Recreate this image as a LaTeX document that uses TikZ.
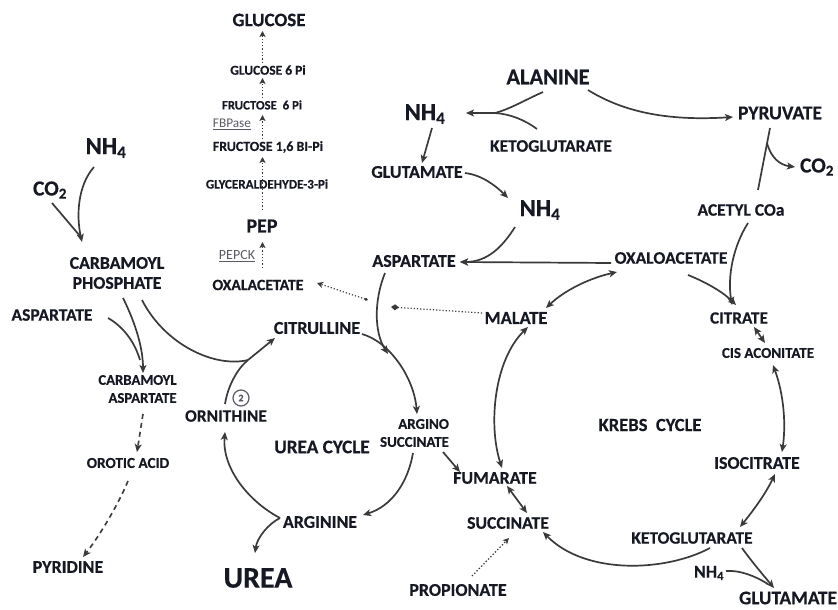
\documentclass[tikz,border=0pt]{standalone}
\usepackage{fontspec}
\setmainfont{Carlito}[BoldFeatures={FakeBold=0.4}]
\usetikzlibrary{arrows.meta,calc}
\definecolor{txt}{RGB}{22,24,36}
\definecolor{lnc}{RGB}{58,58,58}
\definecolor{enz}{RGB}{90,90,100}
\begin{document}
\begin{tikzpicture}[x=1pt,y=-1pt,
  lab/.style={font={\fontsize{#1}{#1}\selectfont\bfseries}, text=txt, inner sep=0pt},
  labtwo/.style 2 args={font={\fontsize{#1}{#2}\selectfont\bfseries}, text=txt, inner sep=0pt},
  enzyme/.style={font={\fontsize{#1}{#1}\selectfont}, text=enz, inner sep=0pt},
  ln/.style={draw=lnc, line width=1.7pt},
  ar/.style={ln, -{Stealth[length=8pt,width=7pt,inset=2pt]}},
  dar/.style={ln, {Stealth[length=8pt,width=7pt,inset=2pt]}-{Stealth[length=8pt,width=7pt,inset=2pt]}},
  dotar/.style={draw=lnc, line width=1.3pt, dotted, -{Stealth[length=6pt,width=6pt,inset=1.5pt]}},
  dashar/.style={draw=lnc, line width=1.6pt, dash pattern=on 5pt off 4pt, -{Stealth[length=8pt,width=7pt,inset=2pt]}},
  numcirc/.style={circle, draw=enz, line width=1.2pt, minimum size=16pt, inner sep=0pt, font={\fontsize{10}{10}\selectfont\bfseries}, text=enz}
]
\useasboundingbox (0,0) rectangle (838,610);

% ---- gluconeogenesis column
\node[lab=19] (glucose) at (269,20) {GLUCOSE};
\node[lab=13.5] (g6p) at (268,70) {GLUCOSE 6 Pi};
\node[lab=12.8] (f6p) at (262,105) {FRUCTOSE\ \ 6 Pi};
\node[enzyme=13.3] (fbpase) at (232,124) {\underline{FBPase}};
\node[lab=13.9] (f16) at (268,147) {FRUCTOSE 1,6 BI-Pi};
\node[lab=13.1] (gly) at (267,184) {GLYCERALDEHYDE-3-Pi};
\node[lab=20] (pep) at (262,226) {PEP};
\node[enzyme=14] (pepck) at (237,256) {\underline{PEPCK}};
\node[lab=15.8] (oxal) at (258,285) {OXALACETATE};

% ---- left: pyrimidine branch
\node[lab=24.5] (nhL) at (106,148) {NH\textsubscript{4}};
\node[lab=21.5] (coL) at (50,190) {CO\textsubscript{2}};
\node[labtwo={17.8}{20}, align=center] (cp) at (117,273) {CARBAMOYL\\PHOSPHATE};
\node[lab=17.5] (aspL) at (52,315) {ASPARTATE};
\node[labtwo={14.7}{18}, align=right] (ca) at (137.5,389) {CARBAMOYL\\ASPARTATE};
\node[lab=15.2] (orotic) at (128,463) {OROTIC ACID};
\node[lab=18] (pyr) at (68,567) {PYRIDINE};

% ---- urea cycle
\node[lab=18.2] (cit) at (317,328) {CITRULLINE};
\node[lab=17.4] (orn) at (226,416) {ORNITHINE};
\node[numcirc] (two) at (241,398) {2};
\node[lab=19.2] (ureacyc) at (322,447) {UREA CYCLE};
\node[labtwo={14.9}{18}, align=right] (argsuc) at (414.5,433) {ARGINO\\SUCCINATE};
\node[lab=17.9] (arg) at (320,522) {ARGININE};
\node[lab=30] (urea) at (258,578) {UREA};

% ---- transamination / top middle
\node[lab=22.4] (ala) at (548,77) {ALANINE};
\node[lab=24.5] (nhT) at (425,114) {NH\textsubscript{4}};
\node[lab=17.5] (ketoT) at (551,146) {KETOGLUTARATE};
\node[lab=17.9] (gluT) at (417,172) {GLUTAMATE};
\node[lab=24.5] (nhM) at (540,210) {NH\textsubscript{4}};
\node[lab=18] (aspM) at (414,261) {ASPARTATE};
\node[lab=17.6] (oxaloR) at (671,258) {OXALOACETATE};
\node[lab=19.6] (pyruv) at (780,113) {PYRUVATE};
\node[lab=21.5] (coR) at (817,167) {CO\textsubscript{2}};
\node[lab=17.5] (acetyl) at (741,210) {ACETYL COa};

% ---- krebs cycle
\node[lab=17.2] (citrate) at (739,318) {CITRATE};
\node[lab=15] (cisacon) at (768,353) {CIS ACONITATE};
\node[lab=18.4] (malate) at (516,318) {MALATE};
\node[lab=18.6] (krebs) at (650,425) {KREBS\ \ CYCLE};
\node[lab=17.9] (isocit) at (757,463) {ISOCITRATE};
\node[lab=17.9] (fum) at (495,478) {FUMARATE};
\node[lab=17.7] (succ) at (508,523) {SUCCINATE};
\node[lab=17.4] (ketoB) at (692,538) {KETOGLUTARATE};
\node[lab=18] (nhS) at (709,573) {NH\textsubscript{4}};
\node[lab=19.2] (gluB) at (788,598) {GLUTAMATE};
\node[lab=18] (prop) at (458,590) {PROPIONATE};

% junction coordinates
\coordinate (j1) at (248,360);
\coordinate (j2) at (495,113);
\coordinate (j3) at (388,354);
\coordinate (j4) at (280,518);
\coordinate (j5) at (767,143);
\coordinate (j6) at (391,307);
\coordinate (j7) at (368,300);
\coordinate (j8) at (80,236);
\coordinate (j9) at (140,360);
\coordinate (j10) at (768,584);

% ---- dotted gluconeogenesis arrows
\draw[dotar] ($(oxal)+(4.5,-17)$) -- ($(pep)+(0.5,16)$);
\draw[dotar] ($(pep)+(0.5,-16)$) -- ($(f16)+(-5.5,10)$);
\draw[dotar] ($(f16)+(-5.5,-8)$) -- ($(f6p)+(0.5,10)$);
\draw[dotar] ($(f6p)+(0.5,-7)$) -- ($(g6p)+(-5.5,8)$);
\draw[dotar] ($(g6p)+(-5.5,-7)$) -- ($(glucose)+(-6.5,11)$);

% ---- left branch
\draw[ar] ($(nhL)+(-12,19)$) .. controls (78,185) and (76,215) .. ($(cp)+(-35,-31)$);
\draw[ln] ($(coL)+(2,13)$) -- (j8);
\draw[ar] ($(cp)+(6,25)$) .. controls (133,318) and (143,345) .. ($(ca)+(5.5,-16)$);
\draw[ln] ($(aspL)+(56,3)$) .. controls (122,326) and (134,340) .. (j9);
\draw[dashar] ($(ca)+(5.5,25)$) -- ($(orotic)+(9,-11)$);
\draw[dashar] ($(orotic)+(0,18)$) .. controls (118,505) and (100,535) .. ($(pyr)+(15,-10)$);

% ---- into citrulline
\draw[ln] ($(cp)+(25,27)$) .. controls (165,345) and (215,368) .. (j1);
\draw[ln] ($(orn)+(-1,-12)$) .. controls (228,385) and (238,368) .. (j1);
\draw[ar] (j1) -- ($(cit)+(-42,10)$);

% ---- urea cycle arcs
\draw[ar] ($(cit)+(45,6)$) .. controls (390,342) and (414,378) .. ($(argsuc)+(2.5,-19)$);
\draw[ar] ($(aspM)+(-29,12)$) .. controls (374,300) and (374,332) .. (j3);
\draw[ar] ($(argsuc)+(-1.5,20)$) .. controls (408,482) and (392,506) .. ($(arg)+(43,-7)$);
\draw[ar] (j4) .. controls (246,500) and (222,466) .. ($(orn)+(-1,16)$);
\draw[ar] (j4) .. controls (268,524) and (257,538) .. ($(urea)+(-3,-25)$);
\draw[ar] ($(argsuc)+(28.5,19)$) -- ($(fum)+(-35,-6)$);

% ---- alanine / transamination
\draw[ln] ($(ala)+(-5,15)$) .. controls (525,100) and (510,109) .. (j2);
\draw[ln] ($(ketoT)+(-14,-17)$) .. controls (525,120) and (510,114) .. (j2);
\draw[ar] (j2) -- ($(nhT)+(41,-1)$);
\draw[ar] ($(nhT)+(7,14)$) -- ($(gluT)+(5,-9)$);
\draw[ar] ($(gluT)+(48,1)$) .. controls (482,175) and (496,186) .. ($(nhM)+(-32,-12)$);
\draw[ar] ($(nhM)+(-25,17)$) .. controls (503,246) and (488,262) .. ($(aspM)+(46,1)$);
\draw[ar] ($(oxaloR)+(-60,5)$) -- ($(aspM)+(46,1)$);
\draw[ar] ($(ala)+(40,13)$) .. controls (625,113) and (670,121) .. ($(pyruv)+(-47,4)$);
\draw[ln] ($(pyruv)+(-10,15)$) -- ($(acetyl)+(17,-20)$);
\draw[ar] (j5) .. controls (771,158) and (780,165) .. ($(coR)+(-22,0)$);
\draw[ar] ($(acetyl)+(7,13)$) .. controls (734,245) and (727,275) .. ($(citrate)+(-7,-13)$);
\draw[ar] ($(oxaloR)+(17,17)$) .. controls (708,283) and (724,293) .. ($(citrate)+(-3,-13)$);

% ---- krebs cycle arcs
\draw[dar] ($(citrate)+(15,9)$) -- ($(cisacon)+(-3,-10)$);
\draw[dar] ($(cisacon)+(5,12)$) .. controls (784,395) and (786,425) .. ($(isocit)+(25,-11)$);
\draw[dar] ($(isocit)+(18,11)$) .. controls (765,495) and (752,512) .. ($(ketoB)+(48,-11)$);
\draw[ar] ($(ketoB)+(18,10)$) .. controls (665,572) and (585,575) .. ($(succ)+(35,9)$);
\draw[ar] ($(ketoB)+(50,10)$) .. controls (752,562) and (764,576) .. ($(gluB)+(-14,-10)$);
\draw[ln] ($(nhS)+(17,-2)$) .. controls (740,570) and (755,576) .. (j10);
\draw[dar] ($(succ)+(19,-10)$) -- ($(fum)+(12,8)$);
\draw[dar] ($(fum)+(7,-10)$) .. controls (488,425) and (494,360) .. ($(malate)+(12,9)$);
\draw[dar] ($(malate)+(30,-10)$) .. controls (565,290) and (590,278) .. ($(oxaloR)+(-54,14)$);
\draw[dotar] ($(prop)+(14,-14)$) -- ($(succ)+(1,15)$);

% ---- dotted malate -> oxalacetate
\draw[draw=lnc, line width=1.2pt, dotted, -{Diamond[length=8pt,width=6pt]}] ($(malate)+(-34,-5)$) -- (j6);
\draw[draw=lnc, line width=1.2pt, dotted, {Diamond[length=4pt,width=3pt]}-{Stealth[length=6pt,width=6pt,inset=1.5pt]}] (j7) -- ($(oxal)+(59,-2)$);

\end{tikzpicture}
\end{document}
